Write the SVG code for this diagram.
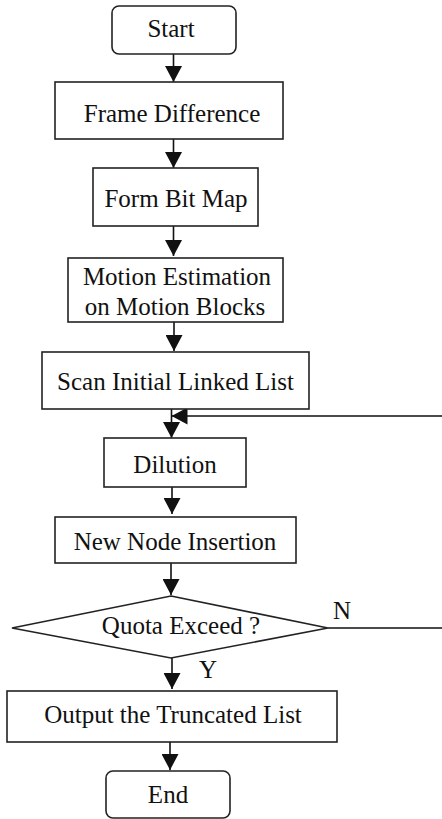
<svg xmlns="http://www.w3.org/2000/svg" width="442" height="819" viewBox="0 0 442 819">
<style>
.box{fill:#fff;stroke:#222;stroke-width:1.6}
.t{font-family:"Liberation Serif","Times New Roman",serif;font-size:25px;fill:#111;text-anchor:middle}
.l{font-family:"Liberation Serif","Times New Roman",serif;font-size:25px;fill:#111}
.c{fill:none;stroke:#111;stroke-width:1.6}
</style>
<defs>
<marker id="ah" markerUnits="userSpaceOnUse" markerWidth="16" markerHeight="17" viewBox="0 0 16 17" refX="16" refY="8.5" orient="auto">
<path d="M0,0 L16,8.5 L0,17 z" fill="#111"/>
</marker>
</defs>
<rect width="442" height="819" fill="#fff"/>
<g id="connectors">
<line class="c" x1="173.5" y1="54" x2="173.5" y2="82" marker-end="url(#ah)"/>
<line class="c" x1="173.5" y1="139" x2="173.5" y2="168" marker-end="url(#ah)"/>
<line class="c" x1="173.5" y1="226" x2="173.5" y2="256" marker-end="url(#ah)"/>
<line class="c" x1="174" y1="322" x2="174" y2="351" marker-end="url(#ah)"/>
<line class="c" x1="171.5" y1="409" x2="171.5" y2="438" marker-end="url(#ah)"/>
<path class="c" d="M328,628 H444 V416 H171.5" marker-end="url(#ah)"/>
<line class="c" x1="172" y1="487" x2="172" y2="514" marker-end="url(#ah)"/>
<line class="c" x1="171" y1="563" x2="171" y2="595" marker-end="url(#ah)"/>
<line class="c" x1="172" y1="658" x2="172" y2="689" marker-end="url(#ah)"/>
<line class="c" x1="170" y1="742" x2="170" y2="770" marker-end="url(#ah)"/>
<text class="l" x="333" y="619">N</text>
<text class="l" x="199" y="678">Y</text>
</g>
<g id="start"><rect class="box" x="112" y="6" width="124" height="48" rx="7"/><text class="t" x="171" y="37">Start</text></g>
<g id="frame-diff"><rect class="box" x="55" y="82" width="228" height="57"/><text class="t" x="172" y="122">Frame Difference</text></g>
<g id="bitmap"><rect class="box" x="93" y="168" width="165" height="58"/><text class="t" x="176" y="207">Form Bit Map</text></g>
<g id="motion"><rect class="box" x="68" y="258" width="215" height="64"/><text class="t" x="177" y="285">Motion Estimation</text><text class="t" x="175" y="315">on Motion Blocks</text></g>
<g id="scan"><rect class="box" x="42" y="352" width="267" height="57"/><text class="t" x="175.5" y="390">Scan Initial Linked List</text></g>
<g id="dilution"><rect class="box" x="104" y="438" width="142" height="49"/><text class="t" x="175" y="473">Dilution</text></g>
<g id="insert"><rect class="box" x="55" y="517" width="241" height="46"/><text class="t" x="175" y="550">New Node Insertion</text></g>
<g id="quota"><polygon class="box" points="171,596 328,628 171,658 12,628"/><text class="t" x="181" y="634">Quota Exceed ?</text></g>
<g id="output"><rect class="box" x="7" y="691" width="330" height="51"/><text class="t" x="173" y="723">Output the Truncated List</text></g>
<g id="end"><rect class="box" x="106" y="771" width="124" height="47" rx="7"/><text class="t" x="168" y="803">End</text></g>
</svg>
